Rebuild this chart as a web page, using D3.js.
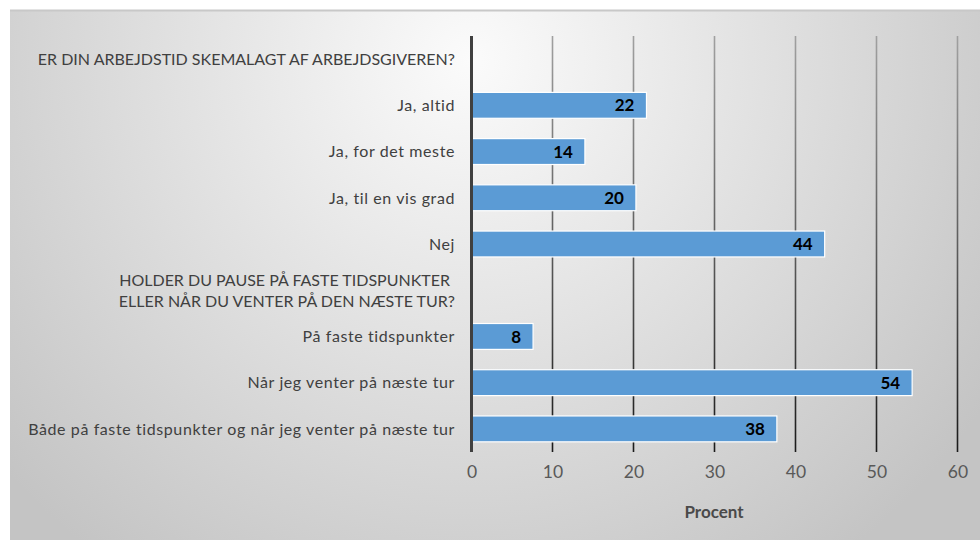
<!DOCTYPE html>
<html>
<head>
<meta charset="utf-8">
<script src="https://cdn.jsdelivr.net/npm/d3@7"></script>
<style>
  body { margin: 0; background: #fff; }
  svg { display: block; font-family: "Lato", "Open Sans", sans-serif; }
</style>
</head>
<body>
<svg id="chart" width="980" height="545"></svg>
<script>
// categories, top to bottom (headers have no value)
const categories = [
    "ER DIN ARBEJDSTID SKEMALAGT AF ARBEJDSGIVEREN?",
    "Ja, altid",
    "Ja, for det meste",
    "Ja, til en vis grad",
    "Nej",
    "HOLDER DU PAUSE PÅ FASTE TIDSPUNKTER|ELLER NÅR DU VENTER PÅ DEN NÆSTE TUR?",
    "På faste tidspunkter",
    "Når jeg venter på næste tur",
    "Både på faste tidspunkter og når jeg venter på næste tur"
];
const values = [null, 21.6, 14.0, 20.3, 43.6, null, 7.6, 54.4, 37.7];
const xTicks = [0, 10, 20, 30, 40, 50, 60];
const xTitle = "Procent";

const svg = d3.select("#chart");

// background panel
const defs = svg.append("defs");
const bg = defs.append("radialGradient")
    .attr("id", "bg")
    .attr("gradientUnits", "userSpaceOnUse")
    .attr("cx", 470).attr("cy", 60).attr("r", 620);
bg.append("stop").attr("offset", "0").attr("stop-color", "#fbfbfb");
bg.append("stop").attr("offset", "1").attr("stop-color", "#c4c4c4");

const grid = defs.append("linearGradient")
    .attr("id", "grid")
    .attr("gradientUnits", "userSpaceOnUse")
    .attr("x1", 0).attr("y1", 36).attr("x2", 0).attr("y2", 452);
grid.append("stop").attr("offset", "0").attr("stop-color", "#a0a0a0");
grid.append("stop").attr("offset", "1").attr("stop-color", "#1a1a1a");

svg.append("rect")
    .attr("x", 10).attr("y", 10)
    .attr("width", 970).attr("height", 530)
    .attr("fill", "url(#bg)");
svg.append("line")
    .attr("x1", 10).attr("x2", 980).attr("y1", 10.5).attr("y2", 10.5)
    .attr("stroke", "#c8c8c8").attr("stroke-width", 2);

// scales
const x = d3.scaleLinear().domain([0, 60]).range([471.5, 957.5]);
const y = d3.scaleBand()
    .domain(categories)
    .range([36, 452])
    .paddingInner(0.44)
    .paddingOuter(0.22);

// gridlines
svg.append("g")
    .selectAll("line")
    .data(xTicks.filter(d => d > 0))
    .enter()
    .append("line")
    .attr("x1", d => x(d)).attr("x2", d => x(d))
    .attr("y1", 36).attr("y2", 452)
    .attr("stroke", "url(#grid)")
    .attr("stroke-width", 1.6);

// x tick labels
const xAxis = svg.append("g")
    .attr("transform", "translate(0,452)")
    .call(d3.axisBottom(x).tickValues(xTicks).tickSize(0).tickPadding(14));
xAxis.select(".domain").remove();
xAxis.selectAll("text")
    .attr("font-family", "Lato, sans-serif")
    .attr("font-size", 17.5)
    .attr("fill", "#595959");

svg.append("text")
    .attr("x", 714)
    .attr("y", 518)
    .attr("text-anchor", "middle")
    .attr("font-size", 17)
    .attr("font-weight", "bold")
    .attr("fill", "#4a4a4a")
    .text(xTitle);

// bars
const data = categories.map((c, i) => ({ cat: c, value: values[i] }))
    .filter(d => d.value !== null);

svg.append("g")
    .selectAll("rect")
    .data(data)
    .enter()
    .append("rect")
    .attr("x", x(0))
    .attr("y", d => y(d.cat))
    .attr("width", d => x(d.value) - x(0))
    .attr("height", y.bandwidth())
    .attr("fill", "#5b9bd5")
    .attr("stroke", "#ffffff")
    .attr("stroke-width", 1.2);

svg.append("g")
    .selectAll("text")
    .data(data)
    .enter()
    .append("text")
    .attr("x", d => x(d.value) - 12)
    .attr("y", d => y(d.cat) + y.bandwidth() / 2)
    .attr("dy", "0.36em")
    .attr("text-anchor", "end")
    .attr("font-size", 17)
    .attr("font-weight", "bold")
    .attr("fill", "#000")
    .text(d => Math.round(d.value));

// y axis line
svg.append("line")
    .attr("x1", x(0)).attr("x2", x(0))
    .attr("y1", 36).attr("y2", 452)
    .attr("stroke", "#404040")
    .attr("stroke-width", 3);

// category labels
const labels = svg.append("g")
    .selectAll("text")
    .data(categories)
    .enter()
    .append("text")
    .attr("x", 455)
    .attr("y", d => y(d) + y.bandwidth() / 2)
    .attr("text-anchor", "end")
    .attr("font-size", 16)
    .attr("letter-spacing", d => d === d.toUpperCase() ? 0 : 0.6)
    .attr("fill", "#404040");

labels.each(function (d) {
    const lines = d.split("|");
    const t = d3.select(this);
    lines.forEach((line, i) => {
        t.append("tspan")
            .attr("x", i === 0 && lines.length > 1 ? 450 : 455)
            .attr("dy", i === 0 ? (0.36 - (lines.length - 1) * 0.65) + "em" : "1.35em")
            .text(line);
    });
});
</script>
</body>
</html>
